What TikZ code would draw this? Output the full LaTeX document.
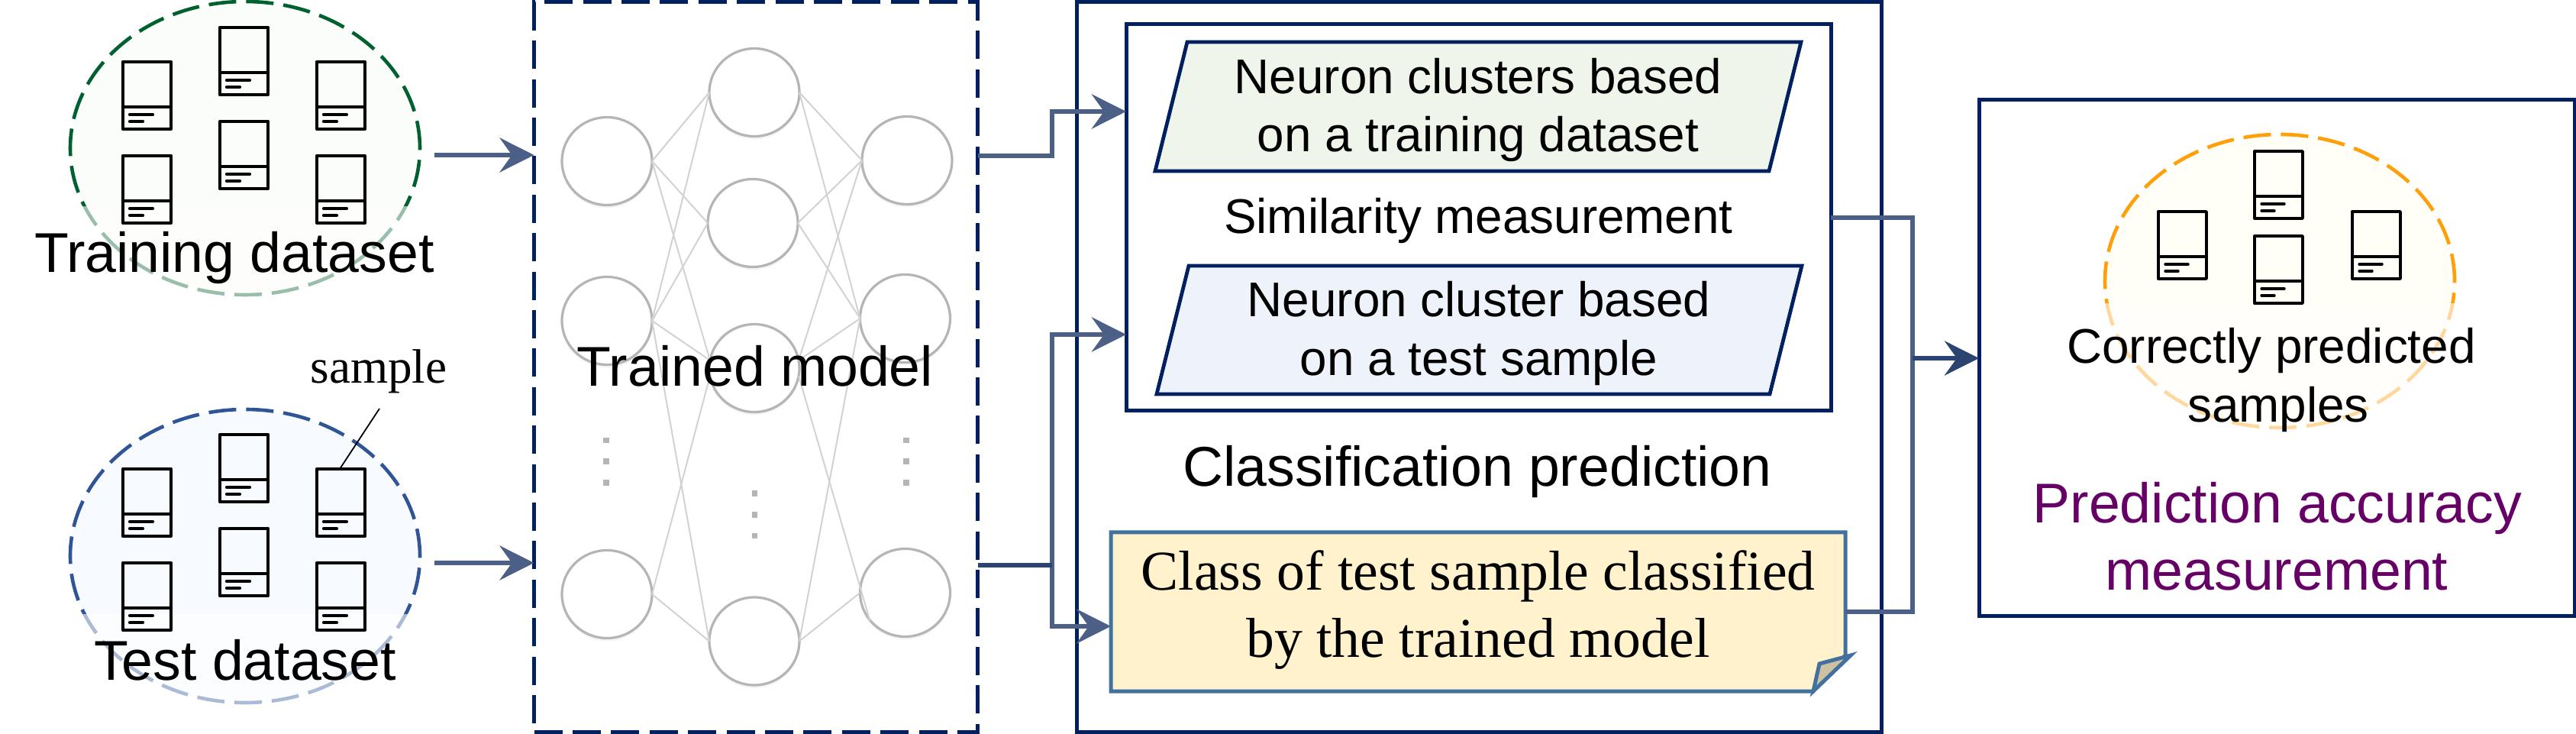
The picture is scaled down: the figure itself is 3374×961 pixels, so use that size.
\documentclass[tikz,border=0pt]{standalone}
\usepackage{fontspec}
\setmainfont{Liberation Sans}
\newfontfamily\timesf{Liberation Serif}
\usetikzlibrary{arrows.meta,shapes.geometric,shadows,calc}
\definecolor{navy}{HTML}{002060}
\definecolor{flowc}{HTML}{4B5F87}
\definecolor{flowd}{HTML}{2B4470}
\definecolor{neurong}{HTML}{B5B5B5}
\definecolor{edgeg}{HTML}{D2D2D2}
\definecolor{greenc}{HTML}{00602F}
\definecolor{bluec}{HTML}{2F5597}
\definecolor{orangec}{HTML}{FF9F0A}
\definecolor{purplec}{HTML}{660066}
\definecolor{trainfill}{HTML}{FAFDF9}
\definecolor{testfill}{HTML}{F7FBFF}
\definecolor{corrfill}{HTML}{FFFEF7}
\definecolor{parag}{HTML}{EFF5EA}
\definecolor{parab}{HTML}{EEF3FB}
\definecolor{notefill}{HTML}{FFF2CC}
\definecolor{noteline}{HTML}{41719C}
\definecolor{foldfill}{HTML}{CDC1A4}
\tikzset{
  sized/.style 2 args={inner sep=0pt,outer sep=0pt,minimum width=#1*0.5pt,minimum height=#2*0.5pt},
  cloud/.style={ellipse,sized={458}{384},line width=2.3pt,dash pattern=on 18pt off 6.5pt},
  fader/.style={fill=white,fill opacity=.6,draw=none},
  iconthick/.style={line width=2.1pt},
  iconthin/.style={line width=1.7pt},
  sampleicon/.pic={
    \draw[line join=round] (0,0) rectangle (63,88);
    \draw (0,59) -- (63,59);
    \draw[line cap=round] (9,69) -- (39,69) (9,78) -- (26,78);
  },
  neuron/.style={ellipse,sized={118}{115},draw=neurong,fill=white,line width=1.6pt,
    drop shadow={shadow xshift=0pt,shadow yshift=-2pt,opacity=.08}},
  syn/.style={draw=edgeg,line width=1pt},
  dotg/.style={fill=neurong,draw=none},
  flow/.style={draw=flowc,line width=3.4pt},
  flowdark/.style={draw=flowd,line width=3pt},
  tip/.style={-{Stealth[length=22.5pt,width=22.5pt,inset=8pt]}},
  solidbox/.style={draw=navy,line width=2.5pt},
  t36/.style={anchor=base,inner sep=0pt,font=\fontsize{36.7}{40}\selectfont},
  t32/.style={anchor=base,inner sep=0pt,font=\fontsize{31.9}{36}\selectfont},
  ts/.style={anchor=base,inner sep=0pt,font=\timesf\fontsize{36.8}{40}\selectfont},
}
\begin{document}
\begin{tikzpicture}[x=0.5pt,y=-0.5pt]
\useasboundingbox (0,0) rectangle (3374,961);

% ---------- training dataset
\node[cloud,draw=greenc,fill=trainfill] (train) at (321,194) {};
\path[fader] (10,270) rectangle (627,390);
\foreach \px/\py in {161/81,288/36,415/81,288/159,161/204,415/204}
  \pic[iconthick] at (\px,\py) {sampleicon};
\node[t36] (trainlabel) at (307,357) {Training dataset};

% ---------- test dataset
\node[cloud,draw=bluec,fill=testfill] (test) at (321,728) {};
\path[fader] (87,804) rectangle (627,923);
\foreach \px/\py in {161/614,288/569,415/614,288/692,161/737,415/737}
  \pic[iconthick] at (\px,\py) {sampleicon};
\node[t36] (testlabel) at (321,891) {Test dataset};
\node[anchor=base,inner sep=0pt,font=\timesf\fontsize{31.6}{36}\selectfont] (samplelabel) at (496,502) {sample};
\coordinate (sampleA) at (497,535);
\coordinate (sampleB) at (445,614);
\draw[line width=.9pt] (sampleA) -- (sampleB);

% ---------- trained model
\node[rectangle,sized={581}{955},draw=navy,line width=2.5pt,dash pattern=on 18.5pt off 6.7pt] (model) at (990,480.5) {};
\node[neuron] (L1) at (795,211) {};
\node[neuron] (L2) at (795,420) {};
\node[neuron] (L3) at (795,778) {};
\node[neuron] (M1) at (988,121) {};
\node[neuron] (M2) at (986,292) {};
\node[neuron] (M3) at (988,482) {};
\node[neuron] (M4) at (988,839.5) {};
\node[neuron] (R1) at (1188,210) {};
\node[neuron] (R2) at (1185.5,417) {};
\node[neuron] (R3) at (1185.5,776) {};
\foreach \a/\b in {L1.east/M1.west,L1.east/M2.west,L1.east/M3.170,
                   L2.east/M1.west,L2.east/M2.west,L2.east/M3.170,L2.east/M4.west,
                   L3.east/M3.190,L3.east/M4.west,
                   M1.east/R1.west,M1.east/R2.west,M2.east/R1.west,M2.east/R2.west,
                   M3.10/R1.west,M3.10/R2.west,M4.east/R2.west,M4.east/R3.west}
  \draw[syn] (\a) -- (\b);
\coordinate (R3inner) at ($(R3.center)+(-46,37)$);
\draw[syn] (M3.-10) -- (R3inner);
\foreach \px/\py in {794/576.6,794/604,794/632,1187/576.6,1187/604,1187/632,988.5/646,988.5/674,988.5/701.6}
  \path[dotg] (\px-3.8,\py-3.8) rectangle (\px+3.8,\py+3.8);
\node[t36] (modellabel) at (989,506) {Trained model};

% ---------- classification
\node[rectangle,sized={1054}{955},solidbox] (classif) at (1937,480.5) {};
\node[rectangle,sized={923}{506},solidbox] (sim) at (1936.5,285) {};
\path[draw=navy,line width=2.4pt,fill=parag] (1555,55) -- (2359,55) -- (2317,224) -- (1513,224) -- cycle;
\path[draw=navy,line width=2.4pt,fill=parab] (1557,348) -- (2360,348) -- (2318,516) -- (1515,516) -- cycle;
\node[t32] (p1a) at (1936,122.5) {Neuron clusters based};
\node[t32] (p1b) at (1936,199) {on a training dataset};
\node[t32] (simlabel) at (1936.5,306) {Similarity measurement};
\node[t32] (p2a) at (1937,415) {Neuron cluster based};
\node[t32] (p2b) at (1937,492) {on a test sample};
\node[t36] (classlabel) at (1935,637) {Classification prediction};

\node[rectangle,sized={962}{208}] (note) at (1936,801) {};
\path[draw=noteline,line width=2.5pt,fill=notefill]
  (1455,697) -- (2417,697) -- (2417,858) -- (2375,905) -- (1455,905) -- cycle;
\path[draw=noteline,line width=2.5pt,fill=foldfill]
  (2375,905) -- (2383,869) -- (2424,858) -- cycle;
\node[ts] (notea) at (1936,773) {Class of test sample classified};
\node[ts] (noteb) at (1936,861) {by the trained model};

% ---------- prediction accuracy
\node[rectangle,sized={780}{676},solidbox] (pred) at (2982,469) {};
\node[cloud,draw=orangec,fill=corrfill] (correct) at (2986,368) {};
\path[fader] (2700,397) rectangle (3300,565);
\foreach \px/\py in {2827/277,2953/198,3081/277,2953/309}
  \pic[iconthin] at (\px,\py) {sampleicon};
\node[t32] (correcta) at (2975,476) {Correctly predicted};
\node[t32] (correctb) at (2984,553) {samples};
\node[t36,text=purplec] (preda) at (2983,685) {Prediction accuracy};
\node[t36,text=purplec] (predb) at (2982,772.5) {measurement};

% ---------- connectors
\coordinate (trainout) at (569,203);
\coordinate (testout) at (569,737);
\coordinate (modelA) at (model.east |- 0,204);
\coordinate (modelB) at (model.east |- 0,739.6);
\coordinate (busA) at (1378,0);
\coordinate (busB) at (2505,0);
\coordinate (simIn1) at (sim.west |- 0,146);
\coordinate (simIn2) at (sim.west |- 0,438);
\coordinate (noteIn) at (note.west |- 0,820);
\draw[flow,tip] (trainout) -- (trainout -| model.west);
\draw[flow,tip] (testout) -- (testout -| model.west);
\draw[flow,tip] (modelA) -- (modelA -| busA) |- (simIn1);
\draw[flow,tip] (modelB -| busA) |- (simIn2);
\draw[flow,tip] (modelB -| busA) |- (noteIn);
\draw[flowdark] (modelB) -- (modelB -| busA);
\draw[flow] (sim.east) -- (sim.east -| busB) |- (note.east);
\draw[flowdark,tip] (pred.west -| busB) -- (pred.west);
\end{tikzpicture}
\end{document}
